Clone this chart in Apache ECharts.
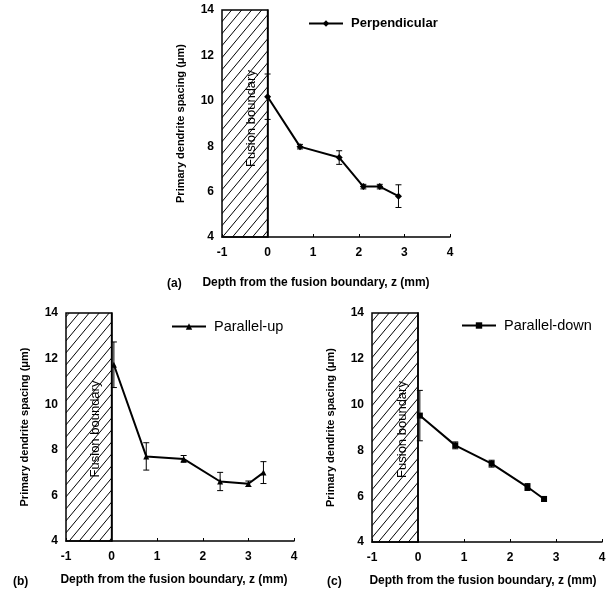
<!DOCTYPE html>
<html lang="en" style="height: 100%">
<head>
	<meta charset="utf-8">
	<title>Primary dendrite spacing</title>
</head>
<body style='height: 100%; margin: 0; background: #fff'>
<div id='container' style='width: 616px; height: 601px'></div>
<script src="https://cdn.jsdelivr.net/npm/echarts@6/dist/echarts.min.js"></script>
<script type="text/javascript">

	// (a) perpendicular
	var perpX = [0.0, 0.71, 1.57, 2.1, 2.46, 2.87];
	var perpY = [10.18, 7.98, 7.5, 6.22, 6.22, 5.8];
	var perpErr = [1.0, 0.1, 0.3, 0.1, 0.1, 0.5];

	// (b) parallel-up
	var upX = [0.05, 0.76, 1.58, 2.38, 3.0, 3.33];
	var upY = [11.73, 7.71, 7.6, 6.61, 6.51, 7.0];
	var upErr = [1.0, 0.6, 0.15, 0.4, 0.12, 0.48];

	// (c) parallel-down
	var downX = [0.04, 0.81, 1.6, 2.38, 2.74];
	var downY = [9.52, 8.22, 7.42, 6.4, 5.88];
	var downErr = [1.1, 0.15, 0.15, 0.15, 0.1];

	var xTicks = [-1, 0, 1, 2, 3, 4];
	var yTicks = [4, 6, 8, 10, 12, 14];

	var names = ['Perpendicular', 'Parallel-up', 'Parallel-down'];
	var panelTags = ['(a)', '(b)', '(c)'];
	var symbols = ['diamond', 'triangle', 'rect'];
	var symbolSizes = [7, 6, 6];

	// hatch pattern for the fusion boundary zone
	var hatch = document.createElement('canvas');
	hatch.width = 10;
	hatch.height = 12;
	var hc = hatch.getContext('2d');
	hc.strokeStyle = '#000';
	hc.lineWidth = 1;
	hc.beginPath();
	hc.moveTo(-10, 12); hc.lineTo(0, 0);
	hc.moveTo(0, 12); hc.lineTo(10, 0);
	hc.moveTo(10, 12); hc.lineTo(20, 0);
	hc.stroke();

	var grids = [
		{ left: 222, top: 10, width: 228, height: 227 },
		{ left: 66, top: 313, width: 228, height: 228 },
		{ left: 372, top: 313, width: 230, height: 229 }
	];
	var namePads = [[0, 40, 0, 0], [0, 12, 0, 0], [0, 8, 0, 0]];
	var nameGaps = [40, 33, 33];
	var labelOffsets = [[5, 7], [-2, 7], [-2, 7]];
	var legendPos = [
		{ left: 308, top: 17 },
		{ left: 171, top: 319 },
		{ left: 461, top: 318 }
	];
	var tagPos = [
		{ left: 162, top: 273 },
		{ left: 8, top: 571 },
		{ left: 322, top: 571 }
	];

	var xs = [perpX, upX, downX];
	var ys = [perpY, upY, downY];
	var errs = [perpErr, upErr, downErr];

	var option = {
		backgroundColor: '#fff',
		animation: false,
		textStyle: { fontFamily: 'Liberation Sans, Arial, sans-serif', color: '#000' },
		grid: grids,
		title: [],
		legend: [],
		xAxis: [],
		yAxis: [],
		series: []
	};

	for (var k = 0; k < 3; k++) {
		option.title.push({
			text: panelTags[k],
			left: tagPos[k].left,
			top: tagPos[k].top,
			textStyle: { fontSize: 12, fontWeight: 'bold', color: '#000' }
		});
		option.legend.push({
			data: [names[k]],
			left: legendPos[k].left,
			top: legendPos[k].top,
			padding: 0,
			itemWidth: 34,
			itemHeight: 8,
			textStyle: { fontSize: k === 0 ? 13 : 14.5, color: '#000', fontWeight: k === 0 ? 'bold' : 'normal', padding: [0, 0, 0, 3] }
		});
		option.xAxis.push({
			type: 'value',
			gridIndex: k,
			min: -1,
			max: 4,
			interval: 1,
			name: 'Depth from the fusion boundary, z (mm)',
			nameLocation: 'middle',
			nameGap: nameGaps[k],
			nameTextStyle: { fontSize: 12, fontWeight: 'bold', color: '#000', padding: namePads[k] },
			axisLine: { lineStyle: { color: '#000', width: 1.5 } },
			axisTick: { inside: true, length: 3, lineStyle: { color: '#000' } },
			axisLabel: {
				fontSize: 12, fontWeight: 'bold', color: '#000', margin: 10,
				formatter: function (v) { return xTicks.indexOf(v) >= 0 ? String(v) : ''; }
			},
			splitLine: { show: false }
		});
		option.yAxis.push({
			type: 'value',
			gridIndex: k,
			min: 4,
			max: 14,
			interval: 2,
			name: 'Primary dendrite spacing (\u03bcm)',
			nameLocation: 'middle',
			nameGap: 36,
			nameTextStyle: { fontSize: 11, fontWeight: 'bold', color: '#000' },
			axisLine: { lineStyle: { color: '#000', width: 1.5 } },
			axisTick: { show: false },
			axisLabel: {
				fontSize: 12, fontWeight: 'bold', color: '#000', margin: 8,
				formatter: function (v) { return yTicks.indexOf(v) >= 0 ? String(v) : ''; }
			},
			splitLine: { show: false }
		});

		var pts = [];
		var bars = [];
		for (var i = 0; i < xs[k].length; i++) {
			pts.push([xs[k][i], ys[k][i]]);
			bars.push([xs[k][i], ys[k][i] - errs[k][i], ys[k][i] + errs[k][i]]);
		}

		option.series.push({
			type: 'line',
			name: names[k],
			xAxisIndex: k,
			yAxisIndex: k,
			data: pts,
			symbol: symbols[k],
			symbolSize: symbolSizes[k],
			lineStyle: { color: '#000', width: 2 },
			itemStyle: { color: '#000' },
			z: 3,
			markArea: {
				silent: true,
				itemStyle: {
					color: { image: hatch, repeat: 'repeat' },
					borderColor: '#000',
					borderWidth: 1.5
				},
				label: {
					show: true,
					position: 'inside',
					rotate: 90,
					offset: labelOffsets[k],
					fontSize: 13,
					color: '#000',
					backgroundColor: 'transparent'
				},
				data: [[{ xAxis: -1, name: 'Fusion boundary' }, { xAxis: 0 }]]
			}
		});

		option.series.push({
			type: 'custom',
			xAxisIndex: k,
			yAxisIndex: k,
			data: bars,
			z: 4,
			renderItem: function (params, api) {
				var lo = api.coord([api.value(0), api.value(1)]);
				var hi = api.coord([api.value(0), api.value(2)]);
				var w = 3;
				var st = { stroke: '#000', lineWidth: 1 };
				return {
					type: 'group',
					children: [
						{ type: 'line', shape: { x1: lo[0], y1: lo[1], x2: hi[0], y2: hi[1] }, style: st },
						{ type: 'line', shape: { x1: lo[0] - w, y1: lo[1], x2: lo[0] + w, y2: lo[1] }, style: st },
						{ type: 'line', shape: { x1: hi[0] - w, y1: hi[1], x2: hi[0] + w, y2: hi[1] }, style: st }
					]
				};
			}
		});
	}

	var dom = document.getElementById('container');
	var myChart = echarts.init(dom, null, { renderer: 'canvas' });
	myChart.setOption(option);

</script>
</body>
</html>
